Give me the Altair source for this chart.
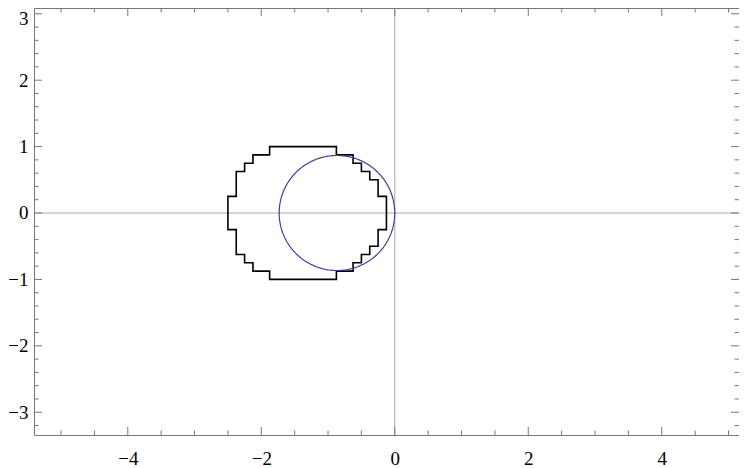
import altair as alt
import numpy as np
import pandas as pd

# ---- data ----
# staircase boundary (upper half, left-middle to right-middle)
stair_x_upper = [-2.5, -2.5, -2.375, -2.375, -2.25, -2.25, -2.125, -2.125, -1.875, -1.875,
                 -0.875, -0.875, -0.625, -0.625, -0.5, -0.5, -0.375, -0.375, -0.25, -0.25,
                 -0.125, -0.125]
stair_y_upper = [0, 0.25, 0.25, 0.625, 0.625, 0.75, 0.75, 0.875, 0.875, 1.0,
                 1.0, 0.875, 0.875, 0.75, 0.75, 0.625, 0.625, 0.5, 0.5, 0.25,
                 0.25, 0]

circle_center_x = -0.866
circle_center_y = 0.0
circle_radius = 0.866

x_major_ticks = [-4, -2, 0, 2, 4]
x_minor_ticks = [-5, -4.5, -3.5, -3, -2.5, -1.5, -1, -0.5, 0.5, 1, 1.5, 2.5, 3, 3.5, 4.5, 5]
y_major_ticks = [-3, -2, -1, 0, 1, 2, 3]
y_minor_ticks = [-3.2, -2.8, -2.6, -2.4, -2.2, -1.8, -1.6, -1.4, -1.2, -0.8, -0.6, -0.4, -0.2,
                 0.2, 0.4, 0.6, 0.8, 1.2, 1.4, 1.6, 1.8, 2.2, 2.4, 2.6, 2.8]

x_domain = [-5.405, 5.157]
y_domain = [-3.343, 3.087]

W, H = 705, 427

# ---- build tables ----
sx = stair_x_upper + stair_x_upper[::-1][1:]
sy = stair_y_upper + [-v for v in stair_y_upper[::-1][1:]]
stair_df = pd.DataFrame({"x": sx, "y": sy, "i": range(len(sx))})

t = np.linspace(0, 2 * np.pi, 241)
circ_df = pd.DataFrame({
    "x": circle_center_x + circle_radius * np.cos(t),
    "y": circle_center_y + circle_radius * np.sin(t),
    "i": range(len(t)),
})

xs = alt.Scale(domain=x_domain, nice=False, zero=False)
ys = alt.Scale(domain=y_domain, nice=False, zero=False)

x_axis = alt.Axis(values=x_major_ticks, ticks=False, tickSize=0, domain=False, grid=False,
                  labelPadding=14, title=None, format="d")
y_axis = alt.Axis(values=y_major_ticks, ticks=False, tickSize=0, domain=False, grid=False,
                  labelPadding=6, title=None, format="d",
                  labelOffset=alt.ExprRef("datum.value == 3 ? 5 : 0"))


def X():
    return alt.X("x:Q", scale=xs, axis=x_axis)


def Y():
    return alt.Y("y:Q", scale=ys, axis=y_axis)


stair = alt.Chart(stair_df).mark_line(color="black", strokeWidth=1.6).encode(
    x=X(), y=Y(), order="i:Q")

circle = alt.Chart(circ_df).mark_line(color="#3d3d99", strokeWidth=1.2).encode(
    x=X(), y=Y(), order="i:Q")

axis_gray = "#aaaaaa"
vline = alt.Chart(pd.DataFrame({"x": [0]})).mark_rule(color=axis_gray, strokeWidth=1).encode(
    x=X(), y=alt.value(0), y2=alt.value(H))
hline = alt.Chart(pd.DataFrame({"y": [0]})).mark_rule(color=axis_gray, strokeWidth=1).encode(
    y=Y(), x=alt.value(0), x2=alt.value(W))

tick_color = "#777777"


def xticks(vals, length):
    df = pd.DataFrame({"x": vals})
    b = alt.Chart(df).mark_rule(color=tick_color, strokeWidth=1).encode(
        x=X(), y=alt.value(H), y2=alt.value(H - length))
    t_ = alt.Chart(df).mark_rule(color=tick_color, strokeWidth=1).encode(
        x=X(), y=alt.value(0), y2=alt.value(length))
    return [b, t_]


def yticks(vals, length):
    df = pd.DataFrame({"y": vals})
    l = alt.Chart(df).mark_rule(color=tick_color, strokeWidth=1).encode(
        y=Y(), x=alt.value(0), x2=alt.value(length))
    r = alt.Chart(df).mark_rule(color=tick_color, strokeWidth=1).encode(
        y=Y(), x=alt.value(W), x2=alt.value(W - length))
    return [l, r]


layers = [vline, hline, stair, circle]
layers += xticks(x_major_ticks, 8) + xticks(x_minor_ticks, 4.5)
layers += yticks(y_major_ticks, 8) + yticks(y_minor_ticks, 4.5)

chart = alt.layer(*layers).properties(
    width=W, height=H,
    autosize=alt.AutoSizeParams(type="none"),
    padding={"left": 26, "top": 0, "right": 0, "bottom": 33},
).configure_view(
    stroke="#777777", strokeWidth=1
).configure_axis(
    labelFont="Liberation Serif", labelFontSize=19, labelColor="black"
)

chart.save("out.html", embed_options={"renderer": "svg", "actions": False})
